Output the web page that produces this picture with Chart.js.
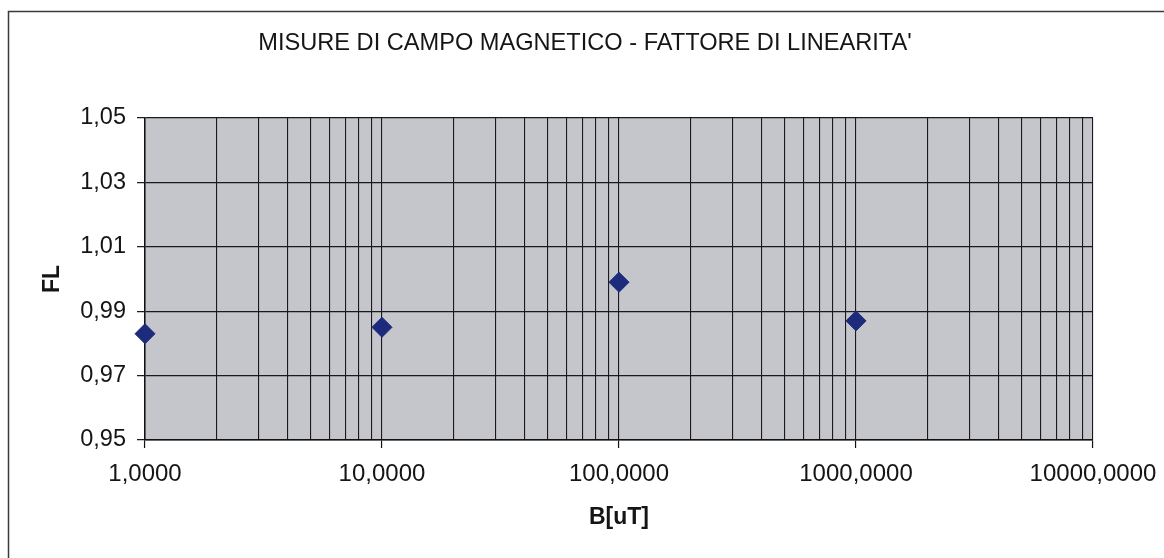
<!DOCTYPE html>
<html>
<head>
<meta charset="utf-8">
<title>Misure di campo magnetico - fattore di linearità</title>
<script src="https://cdn.jsdelivr.net/npm/chart.js@4"></script>
<style>
  html, body { margin: 0; padding: 0; background: #ffffff; }
  #wrap { width: 1164px; height: 558px; position: relative; }
</style>
</head>
<body>
<div id="wrap"><canvas id="chart" width="1164" height="558"></canvas></div>
<script>
// Measured field B [uT] and linearity factor FL
const bValues = [1, 10, 100, 1000];
const flValues = [0.983, 0.985, 0.999, 0.987];

// Axis ticks
const xDecades = [1, 10, 100, 1000, 10000];
const xTickLabels = ['1,0000', '10,0000', '100,0000', '1000,0000', '10000,0000'];
const xMinorSteps = [2, 3, 4, 5, 6, 7, 8, 9];
const yTicks = [0.95, 0.97, 0.99, 1.01, 1.03, 1.05];
const yTickLabels = ['0,95', '0,97', '0,99', '1,01', '1,03', '1,05'];

const chartTitle = "MISURE DI CAMPO MAGNETICO - FATTORE DI LINEARITA'";
const xTitle = 'B[uT]';
const yTitle = 'FL';

// every decade line plus the 2..9 lines inside each decade
const xGridValues = [];
xDecades.forEach((d, i) => {
  xGridValues.push(d);
  if (i < xDecades.length - 1) xMinorSteps.forEach(m => xGridValues.push(m * d));
});

const FONT = '"Liberation Sans", Arial, sans-serif';
const INK = '#151515';

// sheet frame, grey plot background and the heading centred over the sheet
const framePlugin = {
  id: 'frame',
  beforeDraw(chart) {
    const { ctx, chartArea: a } = chart;
    ctx.save();
    ctx.fillStyle = '#ffffff';
    ctx.fillRect(0, 0, chart.width, chart.height);
    ctx.strokeStyle = '#3a3a3a';
    ctx.lineWidth = 1.5;
    ctx.beginPath();
    ctx.moveTo(8.5, chart.height + 5);
    ctx.lineTo(8.5, 11.5);
    ctx.lineTo(chart.width + 5, 11.5);
    ctx.stroke();
    ctx.fillStyle = '#c4c6cb';
    ctx.fillRect(a.left, a.top, a.right - a.left, a.bottom - a.top);
    ctx.fillStyle = INK;
    ctx.font = 'normal 23.6px ' + FONT;
    ctx.textAlign = 'center';
    ctx.textBaseline = 'middle';
    ctx.fillText(chartTitle, 585, 43);
    ctx.restore();
  }
};

new Chart(document.getElementById('chart'), {
  type: 'scatter',
  data: {
    datasets: [{
      label: yTitle,
      data: bValues.map((b, i) => ({ x: b, y: flValues[i] })),
      pointStyle: 'rectRot',
      pointRadius: 10,
      pointHoverRadius: 10,
      backgroundColor: '#1d2b7d',
      borderColor: '#1d2b7d',
      borderWidth: 1,
      showLine: false,
      clip: false
    }]
  },
  options: {
    responsive: false,
    animation: false,
    events: [],
    layout: { padding: { left: 0, right: 71, top: 118, bottom: 0 } },
    plugins: {
      legend: { display: false },
      tooltip: { enabled: false },
      title: { display: false }
    },
    scales: {
      x: {
        type: 'logarithmic',
        min: 1,
        max: 10000,
        afterBuildTicks(scale) {
          scale.ticks = xGridValues.map(v => ({ value: v, major: xDecades.includes(v) }));
        },
        afterFit(scale) {
          scale.height = 118;
          // the right margin already leaves room for the last label
          scale.paddingLeft = 0;
          scale.paddingRight = 0;
        },
        border: { display: true, color: '#111111', width: 1.5 },
        grid: {
          color: '#1a1a1a',
          lineWidth: 1.1,
          drawTicks: true,
          tickLength: 8,
          tickColor: ctx => (ctx.tick && xDecades.includes(ctx.tick.value)) ? '#111111' : 'rgba(0,0,0,0)',
          tickWidth: 1.2
        },
        ticks: {
          autoSkip: false,
          maxRotation: 0,
          minRotation: 0,
          padding: 12,
          color: INK,
          font: { family: FONT, size: 24, lineHeight: 1.2 },
          callback(value) {
            const i = xDecades.indexOf(value);
            return i >= 0 ? xTickLabels[i] : '';
          }
        },
        title: {
          display: true,
          text: xTitle,
          color: INK,
          font: { family: FONT, size: 23, weight: 'bold', lineHeight: 1.2 },
          padding: { top: 0, bottom: 27 }
        }
      },
      y: {
        type: 'linear',
        min: 0.95,
        max: 1.05,
        afterBuildTicks(scale) {
          scale.ticks = yTicks.map(v => ({ value: v }));
        },
        afterFit(scale) { scale.width = 145; },
        border: { display: true, color: '#111111', width: 1.5 },
        grid: {
          color: '#1a1a1a',
          lineWidth: 1.3,
          drawTicks: true,
          tickLength: 8,
          tickColor: '#111111',
          tickWidth: 1.2
        },
        ticks: {
          padding: 11,
          color: INK,
          font: { family: FONT, size: 23.5, lineHeight: 1.2 },
          callback(value) {
            const i = yTicks.findIndex(t => Math.abs(t - value) < 1e-9);
            return i >= 0 ? yTickLabels[i] : '';
          }
        },
        title: {
          display: true,
          text: yTitle,
          color: INK,
          font: { family: FONT, size: 23, weight: 'bold', lineHeight: 1.2 },
          padding: { top: 39, bottom: 0 }
        }
      }
    }
  },
  plugins: [framePlugin]
});
</script>
</body>
</html>
